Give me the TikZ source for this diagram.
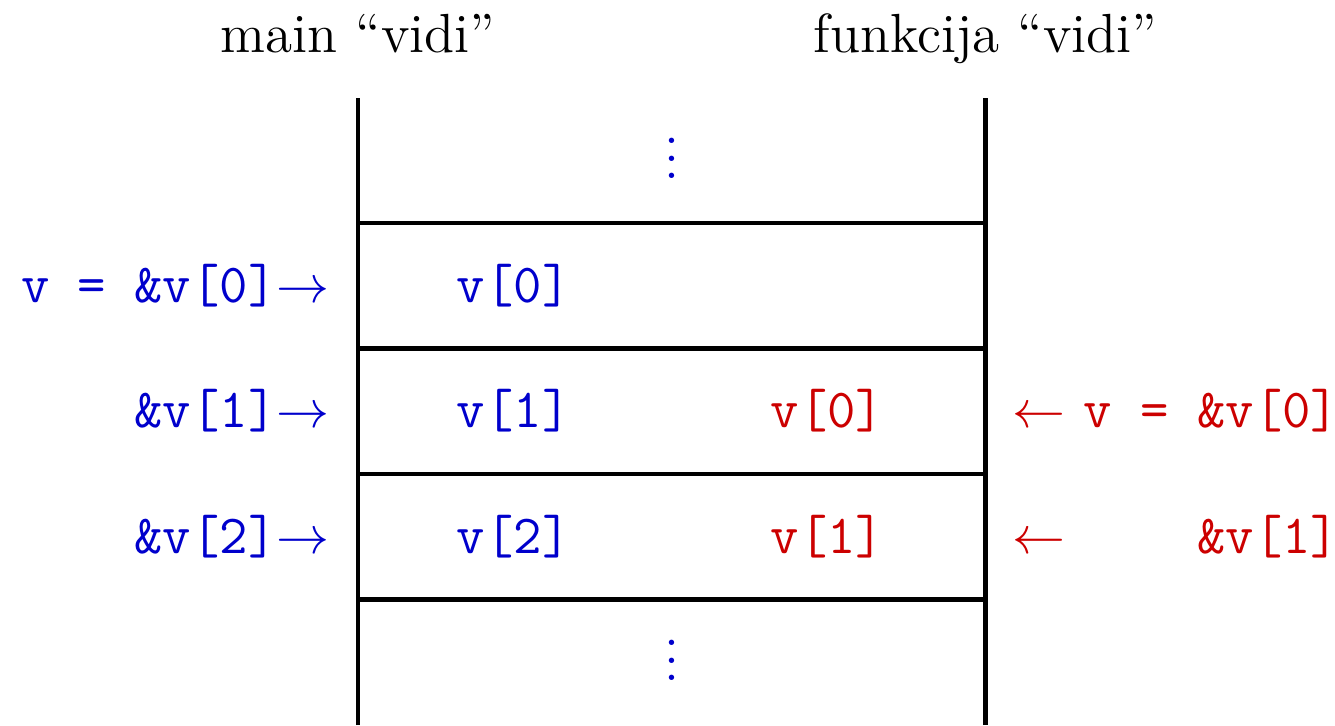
\documentclass[tikz,border=0pt]{standalone}
\usepackage{amsmath,amssymb}
\usepackage{tikz}
\usetikzlibrary{arrows, calc}
\definecolor{mainclr}{rgb}{0,0,0.8}
\definecolor{funclr}{rgb}{0.8,0,0}

\begin{document}
\begin{tikzpicture}[line width=1pt, every node/.style={font=\fontsize{12.5}{15}\selectfont, inner sep=0pt}]
        \useasboundingbox (-2.853,0) rectangle (7.784,5.777);
        \coordinate (L0) at (0, 0);
        \coordinate (L1) at (0, 5);
        \coordinate (R0) at (5, 0);
        \coordinate (R1) at (5, 5);

        % stack
        \draw (L0) -- (L1);
        \draw (R0) -- (R1);
        \foreach \y in {1,...,4}
            \draw ($(L0)+(0,\y)$) -- ($(R0)+(0,\y)$);

        \node[anchor=base] (naslovMain) at (0, 5.36) {main “vidi”};
        \node[anchor=base] (naslovFun) at (5, 5.36) {funkcija “vidi”};

        \node[mainclr] (tockeGore) at (2.5, 4.62) {$\vdots$};
        \node[mainclr] (tockeDolje) at (2.5, 0.62) {$\vdots$};

        % main
        \foreach \i/\y in {0/3.37, 1/2.37, 2/1.37}
            \node[anchor=base, mainclr] (mv\i) at (1.24, \y) {\texttt{v[\i]}};
        \node[anchor=base east, mainclr] (mp0) at (-0.21, 3.37) {\texttt{v = \&v[0]}$\rightarrow$};
        \node[anchor=base east, mainclr] (mp1) at (-0.21, 2.37) {\texttt{\&v[1]}$\rightarrow$};
        \node[anchor=base east, mainclr] (mp2) at (-0.21, 1.37) {\texttt{\&v[2]}$\rightarrow$};

        % funkcija
        \foreach \i/\y in {0/2.37, 1/1.37}
            \node[anchor=base, funclr] (fv\i) at (3.74, \y) {\texttt{v[\i]}};
        \node[anchor=base west, funclr] (fp0) at (5.2, 2.37) {$\leftarrow$ \texttt{v = \&v[0]}};
        \node[anchor=base west, funclr] (fp1) at (5.2, 1.37) {$\leftarrow$ \texttt{\phantom{v = }\&v[1]}};
    \end{tikzpicture}
\end{document}
